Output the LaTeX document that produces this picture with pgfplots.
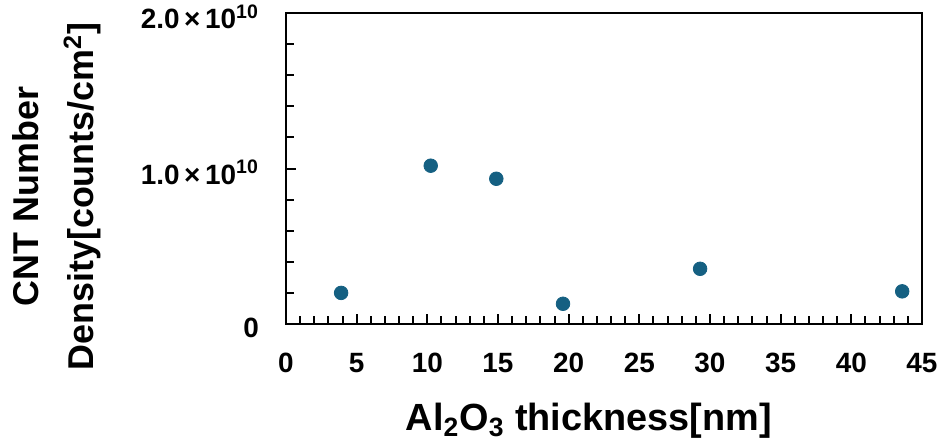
\documentclass[border=0pt]{standalone}
\usepackage{fontspec}
\setmainfont{Liberation Sans}
\usepackage{pgfplots}
\pgfplotsset{compat=1.18}
\definecolor{mk}{HTML}{156082}
\begin{document}
\begin{tikzpicture}
\begin{axis}[
 scale only axis, width=318bp, height=155.5bp,
 xmin=0, xmax=45, ymin=0, ymax=2e10,
 axis line style={line width=1bp},
 tick align=inside, xtick pos=bottom, ytick pos=left,
 xtick={0,5,...,45}, minor x tick num=4,
 xticklabels={0,5,10,15,20,25,30,35,40,45},
 ytick={0,1e10,2e10}, minor y tick num=4,
 yticklabels={0, 1.0\,×\,10\textsuperscript{10}, 2.0\,×\,10\textsuperscript{10}},
 scaled y ticks=false,
 major tick length=5bp, minor tick length=4bp,
 every tick/.style={black, line width=1bp},
 ticklabel style={font=\fontsize{14}{16}\selectfont\bfseries},
 xticklabel style={yshift=-11bp},
 yticklabel style={xshift=-10bp, yshift=-2bp},
 xlabel={Al\textsubscript{2}O\textsubscript{3} thickness[nm]},
 xlabel style={font=\fontsize{19}{23}\selectfont\bfseries, at={(axis description cs:0.476,-0.31)}, anchor=center},
 ylabel={CNT Number\\Density[counts/cm\textsuperscript{2}]},
 ylabel style={font=\fontsize{18}{27.5}\selectfont\bfseries, align=center, at={(axis description cs:-0.36,0.41)}, anchor=center},
]
\addplot[only marks, mark=*, mark size=3.4bp, mark options={fill=mk, draw=mk}] coordinates {
 (3.9,2.0e9) (10.24,1.018e10) (14.88,9.34e9) (19.6,1.3e9) (29.3,3.55e9) (43.6,2.1e9)
};
\end{axis}
\pgfresetboundingbox
\path[use as bounding box] (-143bp,-61bp) rectangle (329bp,162bp);
\end{tikzpicture}
\end{document}
